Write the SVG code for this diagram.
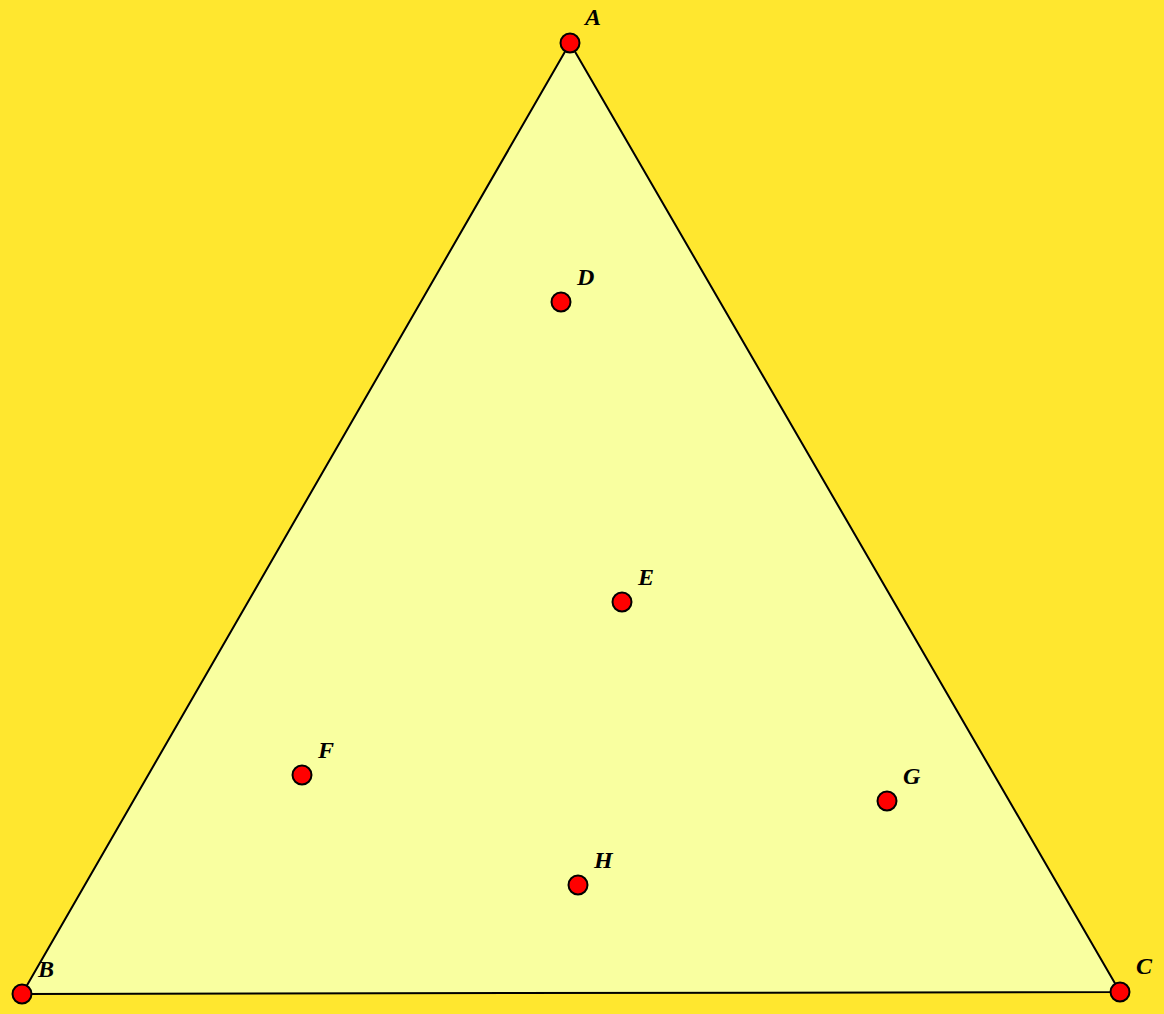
<svg xmlns="http://www.w3.org/2000/svg" width="1164" height="1014" viewBox="0 0 1164 1014">
<style>
.pt{fill:#ff0000;stroke:#000;stroke-width:2}
.lb{font-family:"Liberation Serif",serif;font-style:italic;font-weight:bold;font-size:24px;fill:#000}
</style>
<rect x="0" y="0" width="1164" height="1014" fill="#ffe72f"/>
<g id="connectors">
<polygon points="570,43 22,994 1120,992" fill="#f9ffa0" stroke="#000" stroke-width="2" stroke-linejoin="round"/>
</g>
<g id="A"><circle class="pt" cx="570" cy="43" r="9.5"/><text class="lb" x="585" y="25">A</text></g>
<g id="B"><circle class="pt" cx="22" cy="994" r="9.5"/><text class="lb" x="38" y="977">B</text></g>
<g id="C"><circle class="pt" cx="1120" cy="992" r="9.5"/><text class="lb" x="1136" y="974">C</text></g>
<g id="D"><circle class="pt" cx="561" cy="302" r="9.5"/><text class="lb" x="577" y="285">D</text></g>
<g id="E"><circle class="pt" cx="622" cy="602" r="9.5"/><text class="lb" x="638" y="585">E</text></g>
<g id="F"><circle class="pt" cx="302" cy="775" r="9.5"/><text class="lb" x="318" y="758">F</text></g>
<g id="G"><circle class="pt" cx="887" cy="801" r="9.5"/><text class="lb" x="903" y="784">G</text></g>
<g id="H"><circle class="pt" cx="578" cy="885" r="9.5"/><text class="lb" x="594" y="868">H</text></g>
</svg>
